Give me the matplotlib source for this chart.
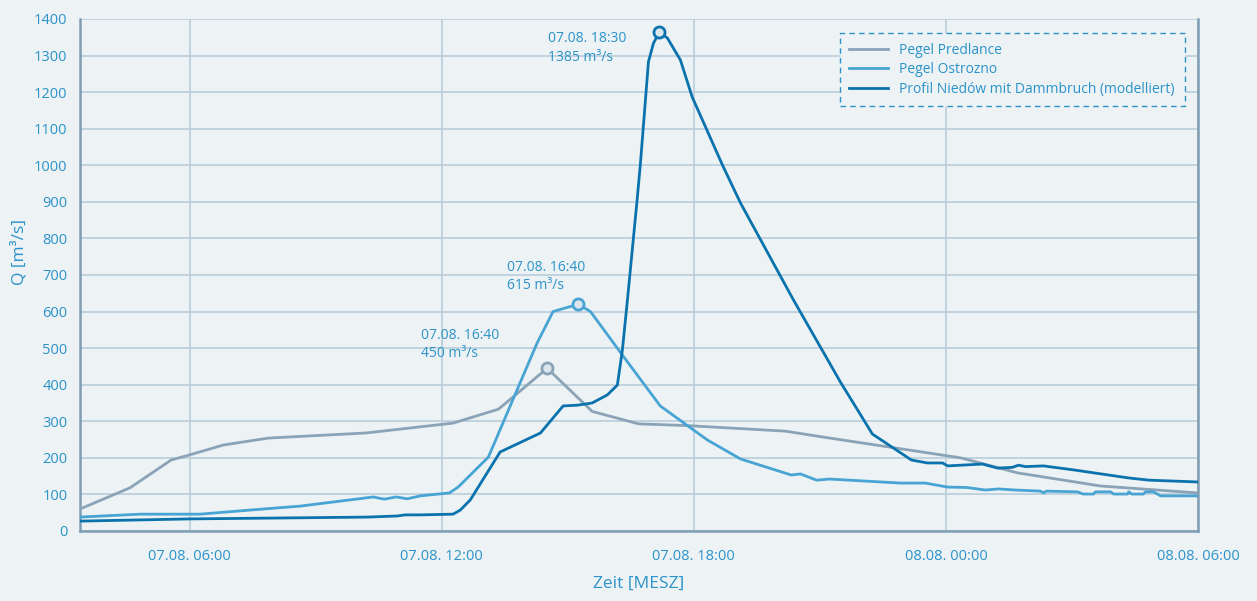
import matplotlib.pyplot as plt

# time in hours since 07.08. 00:00
t_pred = [3.39, 4.58, 5.56, 6.0, 6.80, 7.87, 10.20, 12.27, 13.35, 14.51, 15.58,
          16.68, 17.87, 20.18, 21.01, 24.35, 25.70, 27.68, 30.0]
q_pred = [60, 118, 194, 208, 235, 254, 268, 295, 333, 445, 327,
          293, 288, 273, 258, 200, 159, 123, 104]

t_ostr = [3.39, 4.82, 6.25, 7.20, 8.63, 10.37, 10.63, 10.92, 11.18, 11.49, 12.18,
          12.39, 13.11, 14.27, 14.65, 15.25, 15.54, 16.30, 17.20, 18.32, 19.11,
          20.32, 20.54, 20.92, 21.23, 22.92, 23.51, 24.04, 24.49, 24.94, 25.25,
          25.65, 26.25, 26.32, 26.39, 27.13, 27.27, 27.51, 27.56, 27.92, 27.99,
          28.32, 28.35, 28.42, 28.70, 28.75, 28.94, 29.11, 30.0]
q_ostr = [38, 46, 46, 55, 68, 93, 87, 93, 88, 96, 104,
          120, 202, 514, 600, 620, 600, 481, 342, 249, 197,
          153, 156, 139, 142, 131, 131, 120, 119, 112, 115,
          112, 109, 104, 109, 107, 101, 101, 107, 107, 101,
          101, 107, 101, 101, 107, 107, 96, 96]

t_nied = [3.39, 6.01, 10.23, 10.94, 11.13, 11.49, 12.27, 12.44, 12.68, 13.39, 14.35,
          14.89, 15.23, 15.58, 15.94, 16.18, 16.30, 16.42, 16.65, 16.73, 16.92,
          17.04, 17.18, 17.37, 17.68, 17.96, 18.68, 19.11, 20.37, 21.49, 22.25,
          23.18, 23.56, 23.92, 24.04, 24.87, 25.23, 25.58, 25.73, 25.89, 26.32,
          27.04, 28.35, 28.83, 30.0]
q_nied = [27, 33, 38, 41, 44, 44, 46, 57, 85, 216, 268,
          342, 344, 350, 372, 399, 495, 632, 905, 1006, 1283,
          1334, 1364, 1348, 1288, 1187, 1001, 897, 632, 407, 265,
          194, 186, 186, 178, 183, 172, 174, 180, 176, 178,
          167, 145, 139, 134]

tick_pos = [6, 12, 18, 24, 30]
tick_labels = ["07.08. 06:00", "07.08. 12:00", "07.08. 18:00", "08.08. 00:00", "08.08. 06:00"]

# peaks: (time, value, label)
peak_t = [14.51, 15.25, 17.18]
peak_q = [445, 620, 1364]
peak_text = ["07.08. 16:40\n450 m³/s", "07.08. 16:40\n615 m³/s", "07.08. 18:30\n1385 m³/s"]

bg = "#edf2f5"
c_pred = "#8aa3b7"
c_ostr = "#47a4d3"
c_nied = "#0a73ad"
c_text = "#2b93c9"
c_grid = "#bdd0dc"
c_spine = "#7f9db3"

plt.rcParams['font.family'] = ['Open Sans', 'DejaVu Sans']

fig = plt.figure(figsize=(12.57, 6.01), dpi=100, facecolor=bg)
ax = fig.add_axes([0.0636, 0.1165, 0.8895, 0.8519])
ax.set_facecolor(bg)

ax.plot(t_pred, q_pred, color=c_pred, lw=2, label="Pegel Predlance", zorder=3)
ax.plot(t_ostr, q_ostr, color=c_ostr, lw=2, label="Pegel Ostrozno", zorder=3)
ax.plot(t_nied, q_nied, color=c_nied, lw=2, label="Profil Niedów mit Dammbruch (modelliert)", zorder=4)

cols = [c_pred, c_ostr, c_nied]
for i in range(3):
    ax.plot(peak_t[i], peak_q[i], 'o', ms=8, mfc="#dde6ec", mec=cols[i], mew=2, zorder=5)

ax.text(peak_t[0] - 3.0, peak_q[0] + 20, peak_text[0], color=c_text, fontsize=10, va='bottom', linespacing=1.3)
ax.text(peak_t[1] - 1.7, peak_q[1] + 30, peak_text[1], color=c_text, fontsize=10, va='bottom', linespacing=1.3)
ax.text(peak_t[2] - 2.65, peak_q[2] + 2, peak_text[2], color=c_text, fontsize=10, va='top', linespacing=1.3)

ax.set_xlim(3.39, 30)
ax.set_ylim(0, 1400)
ax.set_yticks(range(0, 1401, 100))
ax.set_xticks(tick_pos)
ax.set_xticklabels(tick_labels)
ax.tick_params(axis='both', length=0, colors=c_text, labelsize=10.5)
ax.tick_params(axis='x', pad=13)
ax.tick_params(axis='y', pad=9)

ax.grid(True, color=c_grid, lw=1.3, zorder=0)
ax.set_axisbelow(True)

for s in ['left', 'bottom', 'right']:
    ax.spines[s].set_color(c_spine)
    ax.spines[s].set_linewidth(1.8)
ax.spines['top'].set_visible(False)

ax.set_ylabel("Q [m³/s]", color=c_text, fontsize=12.5)
ax.yaxis.set_label_coords(-0.047, 0.545)
ax.set_xlabel("Zeit [MESZ]", color=c_text, fontsize=12.5)
ax.xaxis.set_label_coords(0.5, -0.088)

leg = ax.legend(loc='upper right', bbox_to_anchor=(0.988, 0.973), fontsize=10,
                frameon=True, fancybox=False, handlelength=2.8, labelspacing=0.33,
                borderpad=0.7, handletextpad=0.8, borderaxespad=0)
leg.get_frame().set_facecolor(bg)
leg.get_frame().set_alpha(1)
leg.get_frame().set_edgecolor(c_text)
leg.get_frame().set_linestyle((0, (4, 3)))
leg.get_frame().set_linewidth(1)
for txt in leg.get_texts():
    txt.set_color(c_text)

fig.savefig("out.png", dpi=100, facecolor=bg)
